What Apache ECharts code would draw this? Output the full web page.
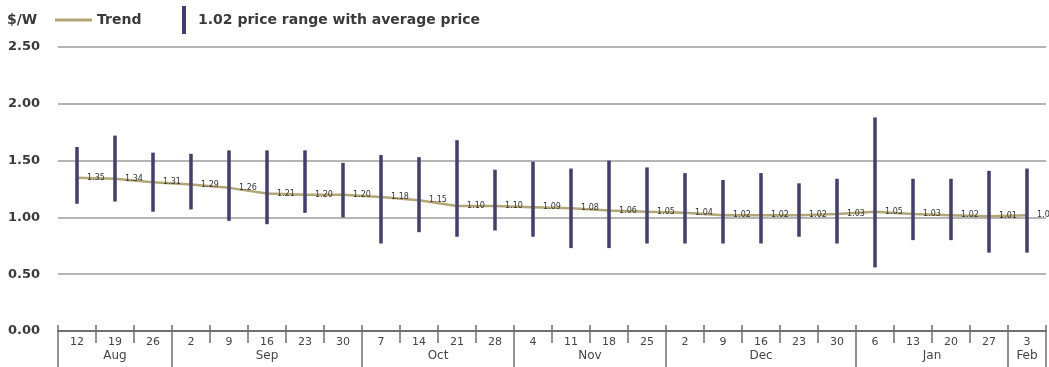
<!DOCTYPE html>
<html>
<head>
<meta charset="utf-8">
<script src="https://cdn.jsdelivr.net/npm/echarts@6/dist/echarts.min.js"></script>
<style>html,body{margin:0;padding:0;background:#fff;}#c{width:1049px;height:367px;}</style>
</head>
<body>
<div id="c"></div>
<script>
// Week labels (day of month)
const days = ['12','19','26','2','9','16','23','30','7','14','21','28','4','11','18','25','2','9','16','23','30','6','13','20','27','3'];
// Months and number of weeks in each
const months = ['Aug','Sep','Oct','Nov','Dec','Jan','Feb'];
const monthWeeks = [3,5,4,4,5,4,1];
// Average price ($/W)
const avgPrice = [1.35,1.34,1.31,1.29,1.26,1.21,1.20,1.20,1.18,1.15,1.10,1.10,1.09,1.08,1.06,1.05,1.04,1.02,1.02,1.02,1.03,1.05,1.03,1.02,1.01,1.02];
// Price range
const highPrice = [1.62,1.72,1.57,1.56,1.59,1.59,1.59,1.48,1.55,1.53,1.68,1.42,1.49,1.43,1.50,1.44,1.39,1.33,1.39,1.30,1.34,1.88,1.34,1.34,1.41,1.43];
const lowPrice  = [1.12,1.14,1.05,1.07,0.97,0.94,1.04,1.00,0.77,0.87,0.83,0.885,0.83,0.73,0.73,0.77,0.77,0.77,0.77,0.83,0.77,0.56,0.80,0.80,0.69,0.69];
// Y ticks
const yTicks = [0, 0.5, 1.0, 1.5, 2.0, 2.5];

const rangeName = '1.02 price range with average price';
const barColor = '#403e72';
const trendColor = '#b3a674';

// month boundaries & centers (in week units)
const bounds = [0]; const centers = [];
monthWeeks.forEach((w, i) => { centers.push(bounds[i] + w / 2); bounds.push(bounds[i] + w); });

const rangeData = days.map((d, i) => [i, lowPrice[i], highPrice[i]]);

const chart = echarts.init(document.getElementById('c'));
chart.setOption({
  animation: false,
  title: { text: '$/W', left: 7, top: 13, padding: 0, textStyle: { fontFamily: 'DejaVu Sans', fontSize: 14, fontWeight: 'bold', color: '#3a3a3a' } },
  legend: [
    { data: [{ name: 'Trend', icon: 'rect' }], left: 55, top: 13, padding: 0, itemWidth: 37, itemHeight: 3,
      textStyle: { fontFamily: 'DejaVu Sans', fontSize: 14, fontWeight: 'bold', color: '#3a3a3a' } },
    { data: [{ name: rangeName, icon: 'rect' }], left: 182, top: 6, padding: 0, itemWidth: 4, itemHeight: 28,
      textStyle: { fontFamily: 'DejaVu Sans', fontSize: 14, fontWeight: 'bold', color: '#3a3a3a', padding: [0, 0, 0, 7] } }
  ],
  grid: { left: 58, right: 3, top: 47, bottom: 36 },
  xAxis: [
    { type: 'category', data: days, boundaryGap: true, position: 'bottom',
      axisLine: { lineStyle: { color: '#6f6f6f', width: 2 } },
      axisTick: { show: true, interval: 0, length: 12, lineStyle: { color: '#6f6f6f', width: 1.5 } },
      axisLabel: { interval: 0, margin: 6, fontFamily: 'DejaVu Sans', fontSize: 11, color: '#444' } },
    { type: 'category', data: days, boundaryGap: true, position: 'bottom',
      axisLine: { show: false },
      axisTick: { show: true, inside: true, interval: 0, length: 6, lineStyle: { color: '#6f6f6f', width: 1.5 } },
      axisLabel: { show: false } },
    { type: 'value', min: 0, max: 26, position: 'bottom',
      axisLine: { show: false }, splitLine: { show: false },
      axisTick: { show: true, length: 36, customValues: bounds, lineStyle: { color: '#6f6f6f', width: 1.5 } },
      axisLabel: { customValues: centers, margin: 19, fontFamily: 'DejaVu Sans', fontSize: 12, color: '#444',
        formatter: v => { const k = centers.indexOf(v); return k >= 0 ? months[k] : ''; } } }
  ],
  yAxis: {
    type: 'value', min: yTicks[0], max: yTicks[yTicks.length - 1], interval: 0.5,
    axisLine: { show: false }, axisTick: { show: false },
    splitLine: { lineStyle: { color: '#9c9c9c', width: 1.5 } },
    axisLabel: { margin: 18, fontFamily: 'DejaVu Sans', fontSize: 13, fontWeight: 'bold', color: '#3a3a3a',
      formatter: v => v.toFixed(2) }
  },
  series: [
    { name: 'Trend', type: 'line', data: avgPrice, xAxisIndex: 0, z: 2,
      symbol: 'circle', symbolSize: 1, showSymbol: true,
      lineStyle: { color: trendColor, width: 2.5 }, itemStyle: { color: trendColor },
      label: { show: true, position: 'inside', offset: [19, 0], fontFamily: 'DejaVu Sans', fontSize: 8, color: '#333',
        formatter: p => p.value.toFixed(2) } },
    { name: rangeName, type: 'custom', xAxisIndex: 0, data: rangeData, z: 3,
      itemStyle: { color: barColor },
      encode: { x: 0, y: [1, 2] },
      renderItem: (params, api) => {
        const lo = api.coord([api.value(0), api.value(1)]);
        const hi = api.coord([api.value(0), api.value(2)]);
        return { type: 'rect', shape: { x: lo[0] - 1.75, y: hi[1], width: 3.5, height: lo[1] - hi[1] },
          style: { fill: barColor } };
      } }
  ]
});
</script>
</body>
</html>
